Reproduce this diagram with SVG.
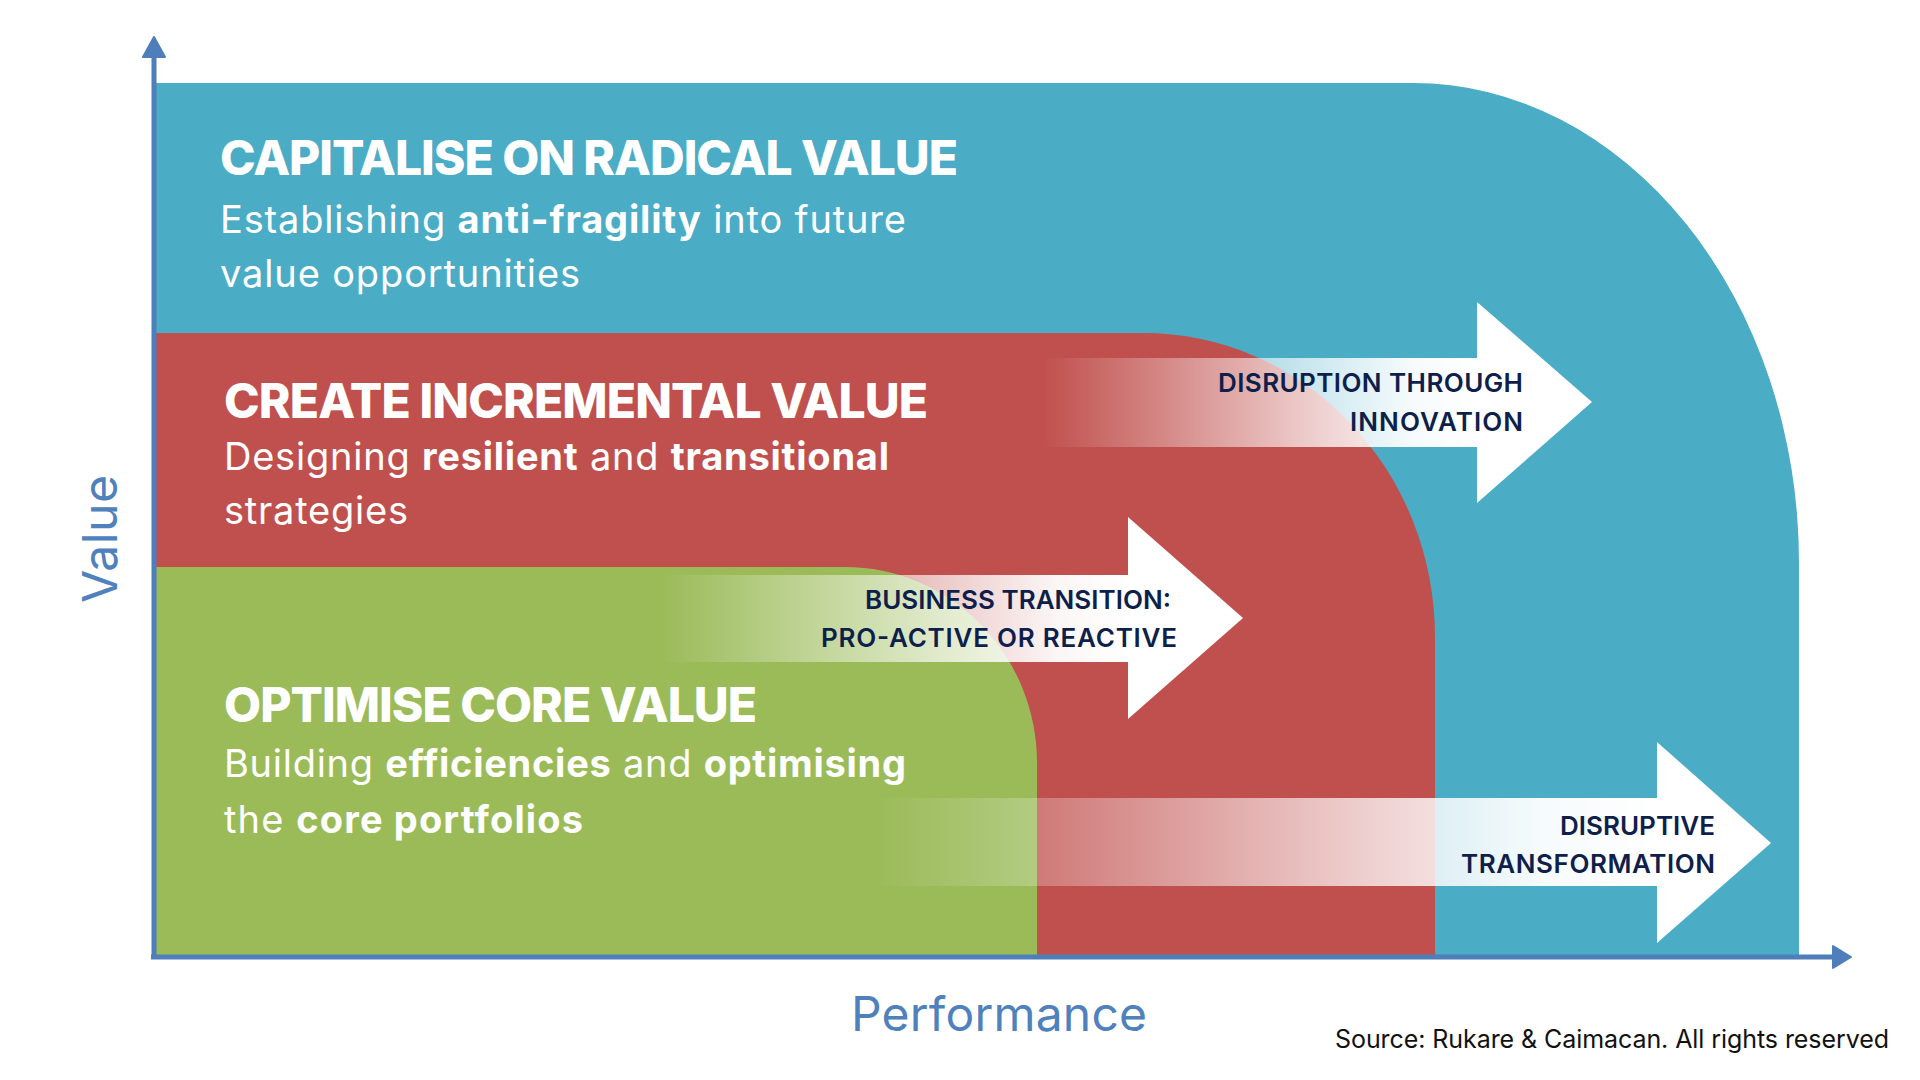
<svg xmlns="http://www.w3.org/2000/svg" width="1920" height="1080" viewBox="0 0 1920 1080">
<defs>
<style>
.title{font-family:Inter,"Liberation Sans",sans-serif;font-weight:800;font-size:48px;fill:#ffffff;}
.sub{font-family:Inter,"Liberation Sans",sans-serif;font-weight:400;font-size:38px;fill:#ffffff;}
.b{font-weight:700;}
.arr{font-family:Inter,"Liberation Sans",sans-serif;font-weight:600;font-size:26px;fill:#0d1f4a;text-anchor:end;}
.axislabel{font-family:Inter,"Liberation Sans",sans-serif;font-weight:400;font-size:48px;fill:#4f81bd;}
.axis{stroke:#4f7fba;stroke-width:5;fill:none;}
.head{fill:#ffffff;}
</style>
<linearGradient id="fade" x1="0" y1="0" x2="1" y2="0">
<stop offset="0" stop-color="#ffffff" stop-opacity="0"/>
<stop offset="0.3" stop-color="#ffffff" stop-opacity="0.35"/>
<stop offset="0.6" stop-color="#ffffff" stop-opacity="0.7"/>
<stop offset="0.85" stop-color="#ffffff" stop-opacity="0.95"/>
<stop offset="1" stop-color="#ffffff" stop-opacity="1"/>
</linearGradient>
</defs>
<rect width="1920" height="1080" fill="#ffffff"/>

<g id="region-radical">
<path d="M154,83 H1413 A386,480 0 0 1 1799,563 V957 H154 Z" fill="#4bacc6"/>
<text class="title" x="220" y="175" textLength="738" lengthAdjust="spacing">CAPITALISE ON RADICAL VALUE</text>
<text class="sub" x="220" y="233" textLength="686" lengthAdjust="spacing">Establishing <tspan class="b">anti-fragility</tspan> into future</text>
<text class="sub" x="220" y="287" textLength="360" lengthAdjust="spacing">value opportunities</text>
</g>

<g id="region-incremental">
<path d="M154,333 H1143 A292,304 0 0 1 1435,637 V957 H154 Z" fill="#c0504d"/>
<text class="title" x="224" y="418" textLength="704" lengthAdjust="spacing">CREATE INCREMENTAL VALUE</text>
<text class="sub" x="224" y="470" textLength="665" lengthAdjust="spacing">Designing <tspan class="b">resilient</tspan> and <tspan class="b">transitional</tspan></text>
<text class="sub" x="224" y="524" textLength="184" lengthAdjust="spacing">strategies</text>
</g>

<g id="region-core">
<path d="M154,567 H845 A192,196 0 0 1 1037,763 V957 H154 Z" fill="#9bbb59"/>
<text class="title" x="224" y="722" textLength="533" lengthAdjust="spacing">OPTIMISE CORE VALUE</text>
<text class="sub" x="224" y="777" textLength="682" lengthAdjust="spacing">Building <tspan class="b">efficiencies</tspan> and <tspan class="b">optimising</tspan></text>
<text class="sub" x="224" y="833" textLength="359" lengthAdjust="spacing">the <tspan class="b">core portfolios</tspan></text>
</g>

<g id="arrow-innovation">
<rect x="1043" y="358" width="435" height="89" fill="url(#fade)"/>
<polygon class="head" points="1477,302 1592,402 1477,503"/>
<text class="arr" x="1523" y="392" textLength="305" lengthAdjust="spacing">DISRUPTION THROUGH</text>
<text class="arr" x="1523" y="431" textLength="173" lengthAdjust="spacing">INNOVATION</text>
</g>

<g id="arrow-transition">
<rect x="661" y="575" width="468" height="87" fill="url(#fade)"/>
<polygon class="head" points="1128,517 1243,618 1128,719"/>
<text class="arr" x="1171" y="609" textLength="306" lengthAdjust="spacing">BUSINESS TRANSITION:</text>
<text class="arr" x="1177" y="647" textLength="356" lengthAdjust="spacing">PRO-ACTIVE OR REACTIVE</text>
</g>

<g id="arrow-transformation">
<rect x="875" y="798" width="783" height="88" fill="url(#fade)"/>
<polygon class="head" points="1657,742 1771,843 1657,943"/>
<text class="arr" x="1715" y="835" textLength="155" lengthAdjust="spacing">DISRUPTIVE</text>
<text class="arr" x="1715" y="873" textLength="254" lengthAdjust="spacing">TRANSFORMATION</text>
</g>

<g id="connectors">
<line class="axis" x1="154" y1="959" x2="154" y2="52"/>
<polygon points="154,37 143,57 165,57" fill="#4f7fba" stroke="#4f7fba" stroke-width="2" stroke-linejoin="round"/>
<line class="axis" x1="151" y1="957" x2="1836" y2="957"/>
<polygon points="1851,957 1833,946 1833,968" fill="#4f7fba" stroke="#4f7fba" stroke-width="2" stroke-linejoin="round"/>
</g>

<g id="axis-labels">
<text class="axislabel" transform="translate(117,539) rotate(-90)" text-anchor="middle" textLength="128" lengthAdjust="spacing">Value</text>
<text class="axislabel" x="851" y="1031" textLength="296" lengthAdjust="spacing">Performance</text>
<text x="1335" y="1048" font-family="Inter,'Liberation Sans',sans-serif" font-size="25" fill="#111111" textLength="554" lengthAdjust="spacing">Source: Rukare &amp; Caimacan. All rights reserved</text>
</g>
</svg>
